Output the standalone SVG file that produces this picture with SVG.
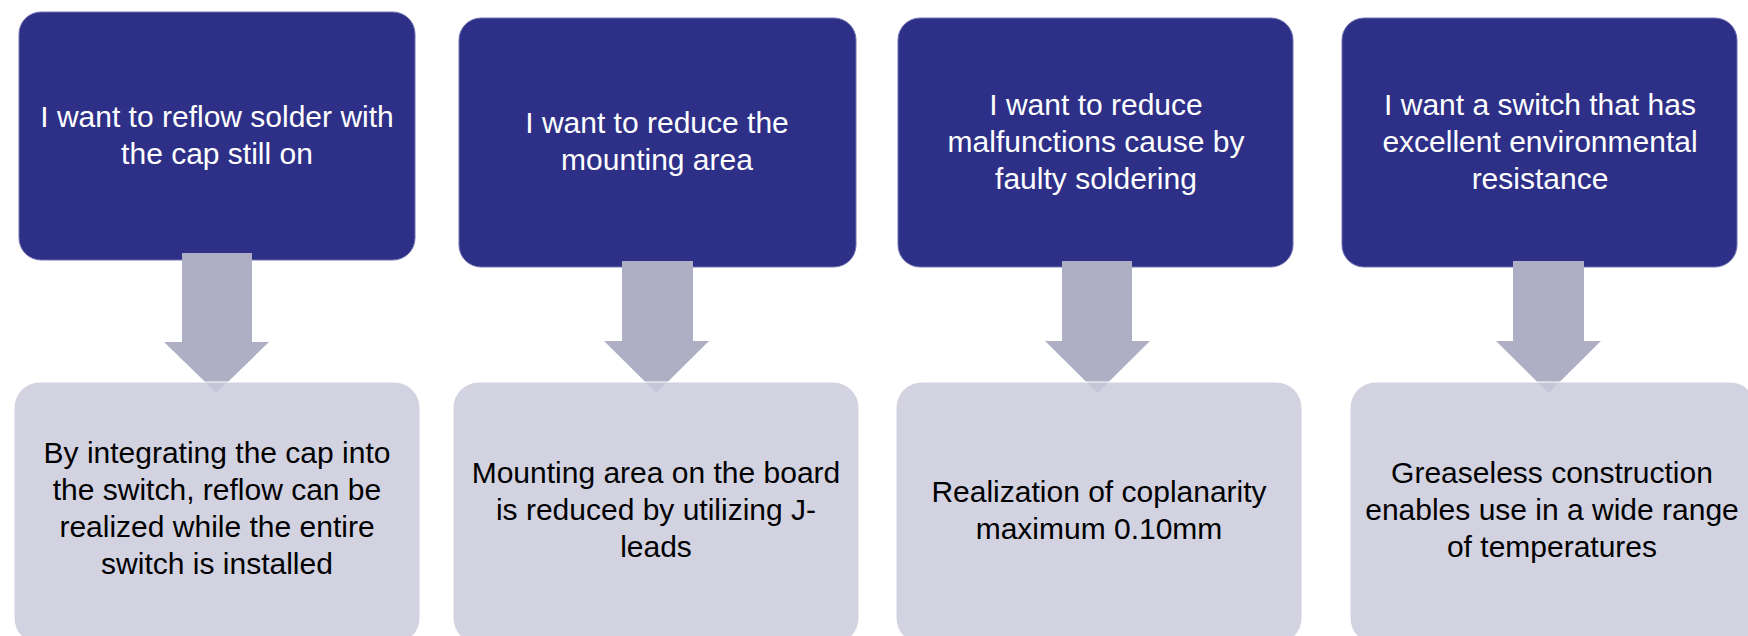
<svg xmlns="http://www.w3.org/2000/svg" width="1748" height="636" viewBox="0 0 1748 636">
<style>
.top{fill:#2E3088;stroke:#6E71AE;stroke-width:1}
.bot{fill:#CACADA;fill-opacity:0.85;stroke:#FFFFFF;stroke-width:1}
.arr{fill:#AEAFC5}
.tw{font-family:"Liberation Sans",Arial,sans-serif;font-size:30px;fill:#FFFFFF;text-anchor:middle}
.tb{font-family:"Liberation Sans",Arial,sans-serif;font-size:30px;fill:#000000;text-anchor:middle}
</style>
<rect width="1748" height="636" fill="#FFFFFF"/>
<g id="need1"><rect class="top" x="19" y="12" width="396" height="248" rx="22"/>
<text class="tw" x="217"><tspan x="217" y="127">I want to reflow solder with</tspan><tspan x="217" y="164">the cap still on</tspan></text></g>
<g id="need2"><rect class="top" x="459" y="18" width="397" height="249" rx="22"/>
<text class="tw"><tspan x="657" y="133">I want to reduce the</tspan><tspan x="657" y="170">mounting area</tspan></text></g>
<g id="need3"><rect class="top" x="898" y="18" width="395" height="249" rx="22"/>
<text class="tw"><tspan x="1096" y="115">I want to reduce</tspan><tspan x="1096" y="152">malfunctions cause by</tspan><tspan x="1096" y="189">faulty soldering</tspan></text></g>
<g id="need4"><rect class="top" x="1342" y="18" width="395" height="249" rx="22"/>
<text class="tw"><tspan x="1540" y="115">I want a switch that has</tspan><tspan x="1540" y="152">excellent environmental</tspan><tspan x="1540" y="189">resistance</tspan></text></g>
<g id="connectors">
<path class="arr" d="M182,253 H252 V342 H269 L216.5,393 L164,342 H182 Z"/>
<path class="arr" d="M622,261 H693 V341 H709 L656.5,393 L604,341 H622 Z"/>
<path class="arr" d="M1062,261 H1132 V341 H1150 L1097.5,393 L1045,341 H1062 Z"/>
<path class="arr" d="M1513,261 H1584 V341 H1601 L1548.5,393 L1496,341 H1513 Z"/>
</g>
<g id="sol1"><rect class="bot" x="14" y="382" width="406" height="262" rx="26"/>
<text class="tb"><tspan x="217" y="463">By integrating the cap into</tspan><tspan x="217" y="500">the switch, reflow can be</tspan><tspan x="217" y="537">realized while the entire</tspan><tspan x="217" y="574">switch is installed</tspan></text></g>
<g id="sol2"><rect class="bot" x="453" y="382" width="406" height="262" rx="26"/>
<text class="tb"><tspan x="656" y="483">Mounting area on the board</tspan><tspan x="656" y="520">is reduced by utilizing J-</tspan><tspan x="656" y="557">leads</tspan></text></g>
<g id="sol3"><rect class="bot" x="896" y="382" width="406" height="262" rx="26"/>
<text class="tb"><tspan x="1099" y="502">Realization of coplanarity</tspan><tspan x="1099" y="539">maximum 0.10mm</tspan></text></g>
<g id="sol4"><rect class="bot" x="1350" y="382" width="406" height="262" rx="26"/>
<text class="tb"><tspan x="1552" y="483">Greaseless construction</tspan><tspan x="1552" y="520">enables use in a wide range</tspan><tspan x="1552" y="557">of temperatures</tspan></text></g>
</svg>
